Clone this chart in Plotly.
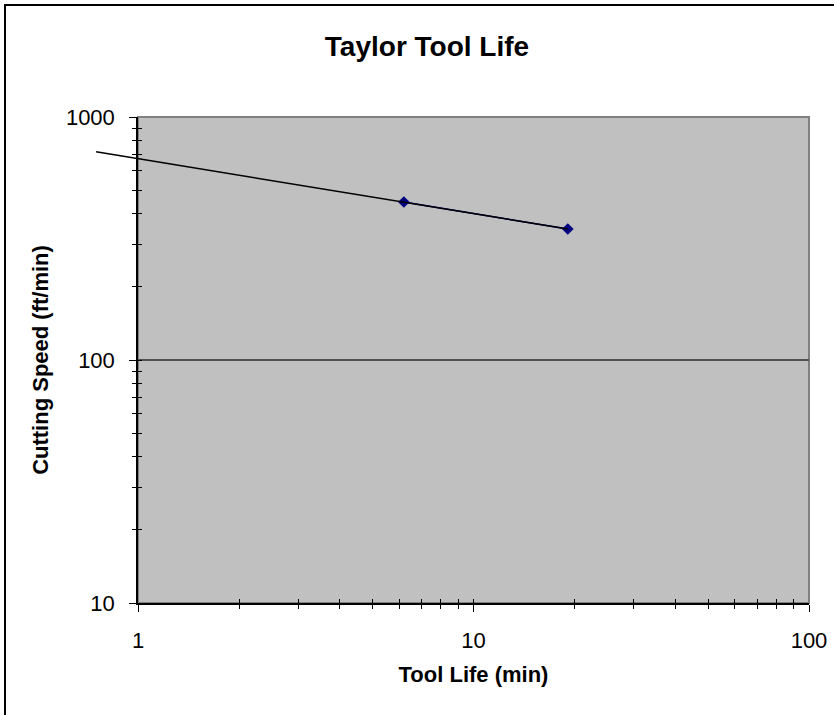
import plotly.graph_objects as go

# ---- data ----
tool_life = [6.2, 19.1]          # min
cutting_speed = [447, 346]       # ft/min
trend_life = [0.75, 19.1]        # power trendline (with backward forecast)
trend_speed = [719, 346]
x_tick_vals = [1, 10, 100]
x_tick_text = ["1", "10", "100"]
y_tick_vals = [10, 100, 1000]
y_tick_text = ["10", "100", "1000"]

W, H = 834, 715
ML, MR, MT, MB = 80, 25, 117, 112
plot_w = W - ML - MR
d0 = (138 - ML) / plot_w                 # main x domain start
x_lo, x_hi = 0.0, 2.0                    # log10 range of main axis
ext_lo = -0.15                           # extended range for trendline subplot
d_ext = 1 - (1 - d0) * (x_hi - ext_lo) / (x_hi - x_lo)

FONT = "Liberation Sans, Arial, sans-serif"

fig = go.Figure()

# trendline on an extended (wider) subplot so it can run past the left axis
fig.add_trace(go.Scatter(
    x=trend_life, y=trend_speed, mode="lines",
    line=dict(color="black", width=1.5),
    xaxis="x2", yaxis="y2", hoverinfo="skip", showlegend=False))

# data points
fig.add_trace(go.Scatter(
    x=tool_life, y=cutting_speed, mode="lines+markers",
    line=dict(color="#000080", width=1.5),
    marker=dict(symbol="diamond", size=9, color="#000080"),
    xaxis="x", yaxis="y", showlegend=False, cliponaxis=False))

# invisible trace for the overlaid inside-tick axes
fig.add_trace(go.Scatter(
    x=tool_life, y=cutting_speed, mode="markers",
    marker=dict(opacity=0), xaxis="x3", yaxis="y3",
    hoverinfo="skip", showlegend=False))

tickfont = dict(family=FONT, size=22, color="black")
titlefont = dict(family=FONT, size=22, color="black")

fig.update_layout(
    width=W, height=H,
    margin=dict(l=ML, r=MR, t=MT, b=MB),
    paper_bgcolor="white",
    plot_bgcolor="rgba(0,0,0,0)",
    title=dict(text="<b>Taylor Tool Life</b>",
               font=dict(family=FONT, size=28, color="black"),
               x=427 / W, xref="container", xanchor="center",
               y=1 - 46 / H, yref="container", yanchor="middle"),
    xaxis=dict(type="log", range=[x_lo, x_hi], domain=[d0, 1],
               tickvals=x_tick_vals, ticktext=x_tick_text,
               tickfont=tickfont, ticks="outside", ticklen=7,
               tickcolor="black", tickwidth=1, ticklabelstandoff=10,
               minor=dict(ticks="outside", ticklen=4, tickcolor="black",
                          dtick="D1", showgrid=False),
               showgrid=False, zeroline=False, automargin=False,
               showline=True, linecolor="black", linewidth=1.5,
               title=dict(text="<b>Tool Life (min)</b>", font=titlefont,
                          standoff=14),
               anchor="y"),
    yaxis=dict(type="log", range=[1, 3],
               tickvals=y_tick_vals, ticktext=y_tick_text,
               tickfont=tickfont, ticks="outside", ticklen=7,
               tickcolor="black", tickwidth=1, ticklabelstandoff=10,
               minor=dict(ticks="outside", ticklen=4, tickcolor="black",
                          dtick="D1", showgrid=False),
               showgrid=True, gridcolor="#505050", gridwidth=1.5,
               zeroline=False, automargin=False,
               showline=True, linecolor="black", linewidth=1.5,
               title=dict(text="<b>Cutting Speed (ft/min)</b>",
                          font=titlefont, standoff=11),
               anchor="x"),
    xaxis2=dict(type="log", range=[ext_lo, x_hi], domain=[d_ext, 1],
                visible=False, anchor="y2"),
    yaxis2=dict(type="log", range=[1, 3], visible=False, anchor="x2"),
    xaxis3=dict(type="log", range=[x_lo, x_hi], overlaying="x",
                anchor="y", side="bottom", tickvals=x_tick_vals,
                showticklabels=False, ticks="inside", ticklen=4,
                tickcolor="black", tickwidth=1,
                minor=dict(ticks="inside", ticklen=4, tickcolor="black",
                           dtick="D1", showgrid=False),
                showgrid=False, zeroline=False, showline=False),
    yaxis3=dict(type="log", range=[1, 3], overlaying="y",
                anchor="x", side="left", tickvals=y_tick_vals,
                showticklabels=False, ticks="inside", ticklen=4,
                tickcolor="black", tickwidth=1,
                minor=dict(ticks="inside", ticklen=4, tickcolor="black",
                           dtick="D1", showgrid=False),
                showgrid=False, zeroline=False, showline=False),
    shapes=[
        # gray plot area with gray border
        dict(type="rect", xref="x domain", yref="y domain",
             x0=0, x1=1, y0=0, y1=1, layer="below",
             fillcolor="#C0C0C0", line=dict(color="#808080", width=2)),
        # chart outer border (runs off the right/bottom of the image)
        dict(type="rect", xref="paper", yref="paper",
             x0=(5 - ML) / plot_w, x1=(W + 20 - ML) / plot_w,
             y0=-(MB + 20) / (H - MT - MB), y1=1 + (MT - 5) / (H - MT - MB),
             line=dict(color="black", width=2), fillcolor="rgba(0,0,0,0)",
             layer="above"),
    ],
)

fig.write_html("out.html",
               config={"displayModeBar": False},
               post_script="document.body.style.margin='0';"
                           "document.body.style.overflow='hidden';")
